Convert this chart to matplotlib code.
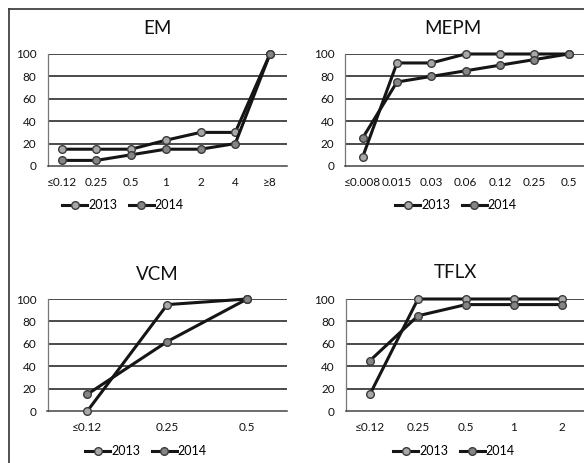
import matplotlib
matplotlib.use("Agg")
import matplotlib.pyplot as plt
from matplotlib.lines import Line2D

plt.rcParams['font.family'] = ['Lato', 'DejaVu Sans']

W, H = 584, 463
DPI = 100

# ---- data ----
em_cats = ["≤0.12", "0.25", "0.5", "1", "2", "4", "≥8"]
em_2013 = [15, 15, 15, 23, 30, 30, 100]
em_2014 = [5, 5, 10, 15, 15, 20, 100]

mepm_cats = ["≤0.008", "0.015", "0.03", "0.06", "0.12", "0.25", "0.5"]
mepm_2013 = [8, 92, 92, 100, 100, 100, 100]
mepm_2014 = [25, 75, 80, 85, 90, 95, 100]

vcm_cats = ["≤0.12", "0.25", "0.5"]
vcm_2013 = [0, 95, 100]
vcm_2014 = [15, 62, 100]

tflx_cats = ["≤0.12", "0.25", "0.5", "1", "2"]
tflx_2013 = [15, 100, 100, 100, 100]
tflx_2014 = [45, 85, 95, 95, 95]

years = ["2013", "2014"]
yticks = [0, 20, 40, 60, 80, 100]

marker_fill = {"2013": "#a8a8a8", "2014": "#858585"}
line_col = "#151515"

fig = plt.figure(figsize=(W / DPI, H / DPI), dpi=DPI)

# outer frame lines (left and top)
fig.add_artist(Line2D([9 / W, 9 / W], [0, 1 - 9 / H], transform=fig.transFigure,
                      color="#333333", lw=1.2))
fig.add_artist(Line2D([9 / W, 1], [1 - 9 / H, 1 - 9 / H], transform=fig.transFigure,
                      color="#333333", lw=1.2))


def px_axes(left, right, top, bottom):
    return fig.add_axes([left / W, 1 - bottom / H, (right - left) / W, (bottom - top) / H])


def panel(box, xlim, cats, s13, s14, title, title_xy, legend_xy):
    ax = px_axes(*box)
    x = list(range(len(cats)))
    for yv in yticks[1:]:
        ax.axhline(yv, color="#1a1a1a", lw=1.1, zorder=1)
    for yr, vals in zip(years, [s13, s14]):
        ax.plot(x, vals, color=line_col, lw=2.2, marker="o", ms=5.5,
                mfc=marker_fill[yr], mec="#3a3a3a", mew=1.0, clip_on=False, zorder=3,
                label=yr)
    ax.set_xlim(*xlim)
    ax.set_ylim(0, 100)
    ax.set_yticks(yticks)
    ax.set_xticks(x)
    ax.set_xticklabels(cats)
    ax.tick_params(axis="both", length=0, labelsize=8.5, colors="#111111")
    ax.tick_params(axis="y", pad=8)
    ax.tick_params(axis="x", pad=8)
    for side in ["top", "right"]:
        ax.spines[side].set_visible(False)
    ax.spines["left"].set_color("#777777")
    ax.spines["left"].set_linewidth(0.9)
    ax.spines["bottom"].set_color("#444444")
    ax.spines["bottom"].set_linewidth(1.1)
    fig.text(title_xy[0] / W, 1 - title_xy[1] / H, title, ha="center", va="center",
             fontsize=13.5, color="#111111")
    handles, labels = ax.get_legend_handles_labels()
    fig.legend(handles, labels, loc="center",
               bbox_to_anchor=(legend_xy[0] / W, 1 - legend_xy[1] / H),
               ncol=2, frameon=False, fontsize=9, handlelength=2.0,
               handletextpad=0.1, columnspacing=0.9, borderpad=0)
    return ax


panel((47.7, 287, 54, 166), (-0.4, 6.49), em_cats, em_2013, em_2014,
      "EM", (157, 29), (123, 205))
panel((345.5, 584, 54, 166), (-0.5, 6.45), mepm_cats, mepm_2013, mepm_2014,
      "MEPM", (453, 29), (456, 205))
panel((47.5, 287, 299, 411), (-0.5, 2.5), vcm_cats, vcm_2013, vcm_2014,
      "VCM", (157, 274), (146, 451))
panel((346, 584, 299, 411), (-0.5, 4.46), tflx_cats, tflx_2013, tflx_2014,
      "TFLX", (455, 273), (454, 451))

fig.savefig("out.png", dpi=DPI)
